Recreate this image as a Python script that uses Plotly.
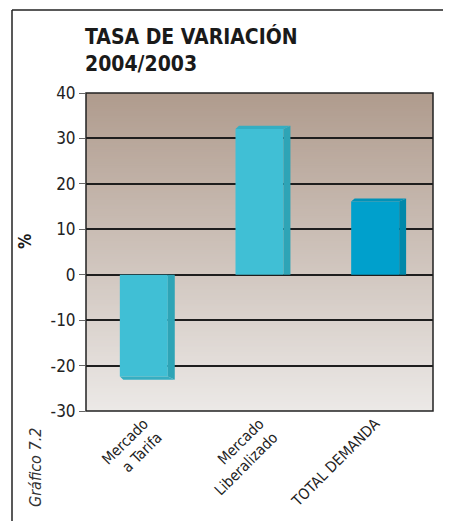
import plotly.graph_objects as go
import numpy as np

categories = ["Mercado<br>a Tarifa", "Mercado<br>Liberalizado", "TOTAL DEMANDA"]
values = [-22.4, 32.1, 16.1]
front_colors = ["#40bfd5", "#40bfd5", "#00a0cc"]
side_colors = ["#2ea4b6", "#2ea4b6", "#0088aa"]
top_colors = ["#35aec2", "#35aec2", "#0092b8"]
y_ticks = [-30, -20, -10, 0, 10, 20, 30, 40]
y_ticktext = ["-30", "-20", "-10", "0", "10", "20", "30", "40"]

OFF = 8  # page body margin
W, H = 451 - OFF, 521 - OFF
L, R, T, B = 86 - OFF, 18, 93 - OFF, 110
pw, ph = W - L - R, H - T - B

def px_x(p):
    return (p - OFF - L) / pw

def px_y(p):
    return (H - B - (p - OFF)) / ph

FONT = "DejaVu Sans Condensed, Roboto, sans-serif"
xpos = list(range(len(categories)))
hw = 0.2075
depth = 0.06
dz = 0.7

fig = go.Figure()
fig.add_trace(go.Bar(x=xpos, y=values, width=[2 * hw] * 3,
                     marker=dict(color=front_colors, line=dict(width=0)),
                     hoverinfo="skip", showlegend=False))
for c, v, sc, tc in zip(xpos, values, side_colors, top_colors):
    s = 1 if v >= 0 else -1
    fig.add_trace(go.Scatter(
        x=[c + hw, c + hw, c + hw + depth, c + hw + depth, c + hw],
        y=[0, v, v + s * dz, 0, 0], fill="toself", fillcolor=sc,
        mode="none", hoverinfo="skip", showlegend=False))
    fig.add_trace(go.Scatter(
        x=[c - hw, c + hw, c + hw + depth, c - hw + depth * 0.5, c - hw],
        y=[v, v, v + s * dz, v + s * dz, v], fill="toself", fillcolor=tc,
        mode="none", hoverinfo="skip", showlegend=False))

# background gradient bands
top_rgb = np.array([176, 156, 142])
bot_rgb = np.array([236, 233, 231])
shapes = []
n = 140
step = 70 / n
for i in range(n):
    f = i / (n - 1)
    col = (bot_rgb + (top_rgb - bot_rgb) * f).astype(int)
    shapes.append(dict(type="rect", xref="paper", yref="y", x0=0, x1=1,
                       y0=-30 + i * step, y1=min(40, -30 + i * step + 3 * step),
                       layer="below", line=dict(width=0),
                       fillcolor=f"rgb({col[0]},{col[1]},{col[2]})"))
# outer frame lines
shapes.append(dict(type="line", xref="paper", yref="paper",
                   x0=px_x(12), x1=px_x(12), y0=px_y(10), y1=px_y(530),
                   line=dict(color="#222", width=1.5)))
shapes.append(dict(type="line", xref="paper", yref="paper",
                   x0=px_x(12), x1=px_x(460), y0=px_y(10), y1=px_y(10),
                   line=dict(color="#222", width=1.5)))
# plot border
shapes.append(dict(type="rect", xref="paper", yref="paper", x0=0, x1=1, y0=0, y1=1,
                   line=dict(color="#222", width=1.5), layer="above"))

fig.update_layout(
    width=W, height=H,
    margin=dict(l=L, r=R, t=T, b=B, autoexpand=False),
    paper_bgcolor="white", plot_bgcolor="rgba(0,0,0,0)",
    barmode="overlay",
    shapes=shapes,
    font=dict(family=FONT, color="#222"),
    xaxis=dict(range=[-0.5, 2.5], tickvals=xpos, ticktext=categories,
               tickangle=-45, showgrid=False, zeroline=False, automargin=False,
               tickfont=dict(size=15, family=FONT, color="#222"), ticks=""),
    yaxis=dict(range=[-30, 40], tickvals=y_ticks, ticktext=y_ticktext,
               showgrid=True, automargin=False,
               gridcolor="#1e1e1e", gridwidth=1.5, zeroline=True,
               zerolinecolor="#1e1e1e", zerolinewidth=2,
               ticks="outside", ticklen=6, tickcolor="#666",
               tickfont=dict(size=17, family=FONT, color="#222")),
    annotations=[
        dict(text="<b>TASA DE VARIACIÓN<br>2004/2003</b>", xref="paper", yref="paper",
             x=px_x(83), y=px_y(22), xanchor="left", yanchor="top", align="left",
             showarrow=False, font=dict(size=21, family=FONT, color="#1a1a1a")),
        dict(text="<b>%</b>", xref="paper", yref="paper", x=px_x(25), y=px_y(242),
             xanchor="center", yanchor="middle",
             textangle=-90, showarrow=False,
             font=dict(size=17, family=FONT, color="#1a1a1a")),
        dict(text="<i>Gráfico 7.2</i>", xref="paper", yref="paper", x=px_x(35), y=px_y(468),
             xanchor="center", yanchor="middle",
             textangle=-90, showarrow=False,
             font=dict(size=16, family=FONT, color="#333")),
    ],
)

fig.write_html("out.html")
